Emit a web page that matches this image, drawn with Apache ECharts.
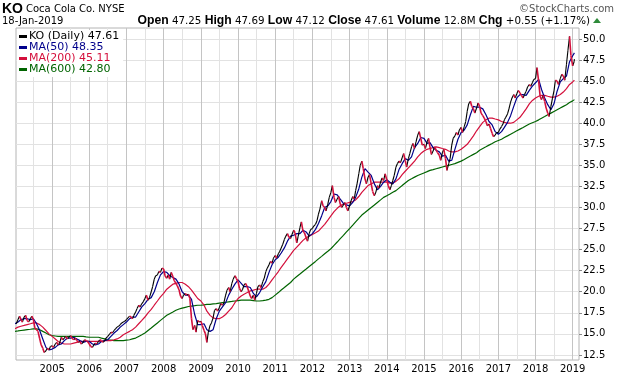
<!DOCTYPE html>
<html>
<head>
<meta charset="utf-8">
<script src="https://cdn.jsdelivr.net/npm/echarts@6/dist/echarts.min.js"></script>
<style>
  html, body { margin: 0; padding: 0; background: #fff; }
  #chart { width: 620px; height: 376px; }
</style>
</head>
<body>
<div id="chart"></div>
<script>
// KO daily close, sampled on the 15th of Jan 2004, then the 1st and 15th of every month
const koClose = [
  16.2, 16.7, 17.1, 16.7, 16.4, 17.0, 17.2, 16.6, 16.4, 16.8, 17.1, 16.7, 15.7, 15.5, 15.3, 14.4, 13.7, 13.3, 12.8, 13.0, 13.3, 13.1, 13.5,
  13.6, 13.4, 13.8, 14.0, 13.7, 13.9, 14.6, 14.3, 14.5, 14.7, 14.4, 14.6, 14.8, 14.5, 14.3, 14.5, 14.2, 14.0, 14.1, 13.8, 14.0, 14.3, 14.2, 14.1,
  13.8, 13.5, 13.4, 13.7, 13.9, 13.8, 14.1, 14.3, 14.2, 14.0, 14.2, 14.5, 14.7, 14.9, 15.2, 15.1, 15.4, 15.6, 15.8, 15.9, 16.1, 16.3, 16.4, 16.5,
  16.7, 16.9, 17.1, 17.0, 16.8, 17.2, 17.6, 18.0, 18.4, 18.2, 18.6, 18.8, 19.2, 19.6, 19.0, 19.3, 20.0, 20.6, 21.5, 21.9, 22.0, 22.4, 22.3, 22.8,
  22.7, 21.9, 21.6, 22.0, 21.5, 22.3, 21.8, 21.3, 21.0, 20.7, 20.2, 19.5, 19.2, 19.6, 19.8, 19.6, 19.7, 19.2, 16.8, 15.5, 16.0, 15.2, 16.6, 16.4,
  16.5, 16.0, 15.4, 15.0, 14.0, 15.2, 16.0, 16.3, 16.9, 17.8, 18.0, 17.7, 18.1, 18.6, 18.4, 18.7, 19.6, 20.2, 20.5, 20.0, 21.0, 21.5, 21.9, 21.6,
  21.2, 20.4, 20.0, 20.3, 20.8, 21.0, 20.6, 20.1, 19.5, 19.2, 19.6, 19.0, 19.8, 20.6, 20.8, 20.5, 21.2, 21.6, 22.4, 22.8, 23.2, 23.6, 23.4, 24.0,
  24.3, 24.0, 24.5, 24.8, 25.2, 25.6, 26.2, 26.6, 26.9, 26.5, 26.3, 26.8, 27.3, 27.0, 25.8, 26.6, 27.6, 28.3, 27.2, 27.0, 26.4, 26.0, 26.9, 27.4,
  27.5, 27.8, 28.0, 28.4, 29.2, 29.8, 30.8, 30.2, 30.0, 29.6, 30.4, 31.2, 31.8, 32.6, 31.2, 30.6, 31.0, 31.3, 30.4, 30.0, 30.3, 30.6, 30.0, 29.6,
  30.2, 30.8, 31.3, 31.0, 32.0, 32.8, 34.0, 35.0, 35.5, 34.6, 33.4, 32.8, 33.6, 33.9, 32.8, 31.9, 31.4, 31.8, 32.6, 32.3, 33.0, 33.5, 33.2, 34.0,
  33.3, 32.6, 32.1, 32.6, 33.2, 33.8, 34.8, 35.2, 35.5, 35.3, 35.9, 36.4, 35.6, 34.8, 35.8, 36.4, 37.2, 37.6, 37.0, 37.8, 38.6, 39.0, 38.2, 37.4,
  37.5, 37.0, 37.8, 38.2, 37.2, 36.3, 36.7, 37.2, 36.8, 36.5, 36.2, 35.6, 36.5, 36.9, 35.8, 34.4, 35.2, 35.8, 37.4, 38.2, 38.5, 38.9, 38.6, 39.2,
  39.5, 38.9, 39.6, 40.2, 41.4, 42.3, 42.6, 42.0, 41.7, 41.2, 41.8, 42.4, 42.0, 41.2, 40.9, 40.6, 40.2, 39.7, 39.9, 39.4, 38.8, 38.4, 38.6, 38.9,
  38.9, 39.3, 39.6, 39.9, 40.4, 40.7, 41.1, 41.7, 42.5, 43.0, 43.4, 43.0, 43.5, 43.9, 43.6, 43.3, 43.0, 43.4, 43.8, 44.3, 44.6, 44.4, 44.8, 45.2,
  45.3, 46.6, 45.0, 43.2, 42.8, 43.3, 42.6, 41.8, 41.2, 40.8, 42.0, 42.9, 43.8, 45.1, 45.0, 44.6, 45.3, 45.8, 45.6, 45.1, 47.0, 48.6, 50.3, 48.0,
  46.8, 47.3
];
const lastDate = [2019, 0, 18];
const koLast = 47.61;

// moving averages, 1st of every month from Jan 2004 to Jan 2019
const ma50 = [
  16.2, 16.4, 16.7, 16.8, 16.8, 16.7, 16.8, 16.2, 15.4, 14.4, 13.4, 13.1,
  13.2, 13.4, 13.7, 13.8, 14.2, 14.5, 14.5, 14.6, 14.4, 14.2, 14.0, 14.1,
  14.1, 13.8, 13.7, 13.8, 14.1, 14.2, 14.3, 14.7, 15.1, 15.4, 15.8, 16.1,
  16.4, 16.8, 17.0, 17.0, 17.6, 18.2, 18.6, 19.1, 19.3, 20.0, 21.1, 22.0,
  22.4, 22.3, 21.9, 21.7, 21.5, 20.9, 20.0, 19.6, 19.6, 19.1, 17.3, 16.1,
  16.1, 16.2, 15.5, 15.3, 15.5, 16.8, 17.7, 18.2, 18.7, 19.6, 20.3, 20.9,
  21.4, 21.0, 20.6, 20.6, 20.5, 19.8, 19.4, 19.9, 20.6, 21.2, 22.3, 23.2,
  23.8, 24.1, 24.6, 25.2, 26.0, 26.6, 26.7, 26.9, 26.9, 27.3, 27.1, 26.6,
  26.9, 27.4, 28.1, 29.0, 30.0, 30.2, 30.7, 31.6, 31.5, 31.0, 30.5, 30.3,
  30.2, 30.6, 31.2, 32.2, 33.6, 34.6, 34.2, 33.8, 32.8, 32.1, 32.5, 33.0,
  33.3, 33.0, 32.8, 33.4, 34.5, 35.2, 35.8, 35.6, 36.0, 37.1, 37.6, 38.3,
  38.2, 37.6, 37.7, 37.1, 36.8, 36.6, 36.1, 36.2, 35.5, 35.6, 36.9, 38.1,
  38.9, 39.2, 39.8, 41.0, 42.0, 41.9, 41.9, 41.7, 41.0, 40.2, 39.8, 39.0,
  38.7, 39.0, 39.5, 40.1, 40.9, 42.0, 43.0, 43.4, 43.4, 43.3, 43.9, 44.4,
  44.8, 45.2, 44.0, 43.0, 42.2, 41.6, 42.3, 43.8, 44.9, 45.3, 45.6, 47.3,
  48.0
];
const ma50Last = 48.35;

const ma200 = [
  15.6, 15.8, 15.9, 16.0, 16.1, 16.2, 16.3, 16.3, 16.1, 15.8, 15.4, 15.0,
  14.7, 14.4, 14.1, 13.9, 13.8, 13.8, 13.8, 13.9, 14.0, 14.1, 14.1, 14.1,
  14.1, 14.1, 14.1, 14.1, 14.1, 14.2, 14.2, 14.2, 14.3, 14.4, 14.6, 14.9,
  15.1, 15.3, 15.5, 15.8, 16.2, 16.6, 17.0, 17.5, 17.9, 18.4, 18.9, 19.4,
  19.8, 20.3, 20.6, 20.9, 21.0, 21.1, 21.1, 20.9, 20.6, 20.2, 19.7, 19.2,
  18.9, 18.4, 17.7, 17.2, 16.9, 16.8, 16.8, 17.0, 17.3, 17.7, 18.1, 18.7,
  19.2, 19.5, 19.7, 19.9, 20.1, 20.2, 20.3, 20.3, 20.3, 20.5, 20.9, 21.4,
  21.9, 22.4, 22.9, 23.4, 23.9, 24.4, 24.9, 25.3, 25.7, 26.1, 26.4, 26.6,
  26.8, 27.0, 27.2, 27.6, 28.0, 28.5, 29.0, 29.5, 29.9, 30.2, 30.4, 30.5,
  30.6, 30.7, 30.9, 31.3, 31.8, 32.2, 32.6, 32.8, 33.0, 33.0, 33.0, 33.0,
  33.0, 32.9, 32.9, 33.1, 33.4, 33.9, 34.3, 34.7, 35.1, 35.5, 36.0, 36.4,
  36.7, 36.9, 37.0, 37.1, 37.2, 37.1, 37.0, 36.9, 36.7, 36.6, 36.6, 36.7,
  36.9, 37.2, 37.5, 38.0, 38.5, 39.1, 39.6, 40.1, 40.4, 40.6, 40.6, 40.5,
  40.4, 40.2, 40.1, 40.0, 40.0, 40.1, 40.4, 40.7, 41.2, 41.7, 42.3, 42.7,
  43.0, 43.2, 43.3, 43.3, 43.2, 43.1, 43.1, 43.2, 43.4, 43.7, 44.1, 44.6,
  44.9
];
const ma200Last = 45.11;

const ma600 = [
  15.3, 15.35, 15.4, 15.45, 15.5, 15.55, 15.6, 15.6, 15.5, 15.3, 15.1, 14.9,
  14.8, 14.75, 14.7, 14.7, 14.7, 14.7, 14.7, 14.7, 14.7, 14.7, 14.7, 14.65,
  14.6, 14.6, 14.6, 14.6, 14.5, 14.4, 14.3, 14.25, 14.2, 14.2, 14.2, 14.2,
  14.25, 14.3, 14.4, 14.5, 14.7, 14.9, 15.1, 15.4, 15.7, 16.0, 16.3, 16.6,
  16.9, 17.2, 17.4, 17.6, 17.8, 17.95, 18.05, 18.15, 18.25, 18.3, 18.35, 18.4,
  18.4, 18.45, 18.5, 18.5, 18.55, 18.6, 18.65, 18.7, 18.75, 18.8, 18.85, 18.9,
  18.95, 19.0, 19.0, 19.0, 19.0, 18.95, 18.9, 18.9, 18.95, 19.0, 19.1, 19.3,
  19.6, 19.9, 20.2, 20.5, 20.8, 21.1, 21.5, 21.8, 22.1, 22.4, 22.7, 23.0,
  23.3, 23.6, 23.9, 24.2, 24.5, 24.8, 25.1, 25.5, 25.9, 26.3, 26.7, 27.1,
  27.5, 27.9, 28.3, 28.7, 29.1, 29.4, 29.7, 30.0, 30.3, 30.6, 30.9, 31.2,
  31.4, 31.6, 31.8, 32.0, 32.3, 32.6, 32.9, 33.2, 33.4, 33.6, 33.8, 33.95,
  34.1, 34.25, 34.4, 34.5, 34.6, 34.7, 34.8, 34.9, 35.0, 35.1, 35.2, 35.35,
  35.5, 35.7, 35.9, 36.1, 36.3, 36.5, 36.8, 37.0, 37.2, 37.4, 37.6, 37.8,
  37.95, 38.1, 38.3, 38.5, 38.7, 38.9, 39.1, 39.3, 39.5, 39.7, 39.9, 40.05,
  40.2, 40.4, 40.6, 40.8, 41.0, 41.2, 41.4, 41.6, 41.8, 42.0, 42.2, 42.45,
  42.65
];
const ma600Last = 42.80;

const yearLabels = [2005, 2006, 2007, 2008, 2009, 2010, 2011, 2012, 2013, 2014, 2015, 2016, 2017, 2018, 2019];
const priceTicks = [12.5, 15, 17.5, 20, 22.5, 25, 27.5, 30, 32.5, 35, 37.5, 40, 42.5, 45, 47.5, 50];

const upColor = '#000000';
const downColor = '#d4103c';
const font = 'DejaVu Sans';

const ts = (y, m, d) => new Date(y, m, d).getTime();
const tLast = ts(lastDate[0], lastDate[1], lastDate[2]);

const closeDates = koClose.map((v, i) => ts(2004, Math.floor((i + 1) / 2), i % 2 === 0 ? 15 : 1));
closeDates.push(tLast);
const closes = koClose.concat([koLast]);
const segments = [];
for (let i = 1; i < closes.length; i++) {
  segments.push([closeDates[i - 1], closes[i - 1], closeDates[i], closes[i], closes[i] >= closes[i - 1] ? 1 : 0]);
}

const maLine = (vals, last) => vals.map((v, i) => [ts(2004, i, 1), v]).concat([[tLast, last]]);

const yearTicks = yearLabels.map(y => ts(y, 0, 1));
const halfTicks = [];
for (let y = 2004; y <= 2019; y++) {
  if (y > 2004) halfTicks.push(ts(y, 0, 1));
  if (y < 2019) halfTicks.push(ts(y, 6, 1));
}

const names = [
  'KO (Daily) ' + koLast.toFixed(2),
  'MA(50) ' + ma50Last.toFixed(2),
  'MA(200) ' + ma200Last.toFixed(2),
  'MA(600) ' + ma600Last.toFixed(2)
];

const chart = echarts.init(document.getElementById('chart'));
chart.setOption({
  animation: false,
  backgroundColor: '#fff',
  grid: {
    left: 16, right: 41, top: 28, bottom: 16,
    show: true, borderColor: '#b4b4b4', borderWidth: 1
  },
  legend: {
    orient: 'vertical',
    left: 17, top: 30,
    backgroundColor: '#fff',
    padding: [1, 4, 2, 2],
    itemGap: 0,
    itemWidth: 8, itemHeight: 3,
    icon: 'rect',
    textStyle: { fontFamily: font, fontSize: 11, lineHeight: 10, padding: [0, 0, 0, -3] },
    data: [
      { name: names[0], textStyle: { color: '#000' } },
      { name: names[1], textStyle: { color: '#00008b' } },
      { name: names[2], textStyle: { color: '#d4103c' } },
      { name: names[3], textStyle: { color: '#006400' } }
    ]
  },
  xAxis: {
    type: 'value',
    min: ts(2004, 0, 12),
    max: ts(2019, 2, 4),
    axisLine: { show: false },
    axisTick: { show: false, customValues: halfTicks },
    splitLine: { show: true, lineStyle: { color: ['#e2e2e2', '#c4c4c4'], width: 1 } },
    axisLabel: {
      customValues: yearTicks,
      formatter: v => String(new Date(v).getFullYear()),
      color: '#000', fontFamily: font, fontSize: 10, margin: 4
    }
  },
  yAxis: {
    type: 'value',
    position: 'right',
    min: 11.9,
    max: 51.3,
    axisLine: { show: false },
    axisTick: { show: true, customValues: priceTicks, length: 3, lineStyle: { color: '#888' } },
    splitLine: { show: true, lineStyle: { color: '#e2e2e2', width: 1 } },
    axisLabel: {
      customValues: priceTicks,
      formatter: v => v.toFixed(1),
      color: '#000', fontFamily: font, fontSize: 10, margin: 4
    }
  },
  graphic: [
    { type: 'text', left: 2, top: 2, style: { text: 'KO', font: 'bold 14px "Liberation Sans"', fill: '#000' } },
    { type: 'text', left: 26, top: 4, style: { text: 'Coca Cola Co. NYSE', font: '10px "DejaVu Sans"', fill: '#000' } },
    { type: 'text', right: 6, top: 4, style: { text: '©StockCharts.com', font: '10px "DejaVu Sans"', fill: '#555' } },
    { type: 'text', left: 2, top: 16, style: { text: '18-Jan-2019', font: '10px "DejaVu Sans"', fill: '#000' } },
    {
      type: 'text', right: 30, top: 15,
      style: {
        text: '{b|Open} 47.25 {b|High} 47.69 {b|Low} 47.12 {b|Close} 47.61 {b|Volume} 12.8M {b|Chg} +0.55 (+1.17%)',
        font: '10.3px "DejaVu Sans"', fill: '#000',
        rich: { b: { fontFamily: 'Liberation Sans', fontWeight: 'bold', fontSize: 12.2 } }
      }
    },
    { type: 'polygon', shape: { points: [[593, 23], [601, 23], [597, 18]] }, style: { fill: '#2e8b3a' } }
  ],
  series: [
    {
      name: names[0],
      type: 'custom',
      itemStyle: { color: upColor },
      encode: { x: [0, 2], y: [1, 3] },
      data: segments,
      z: 5,
      renderItem: (params, api) => {
        const a = api.coord([api.value(0), api.value(1)]);
        const b = api.coord([api.value(2), api.value(3)]);
        const up = api.value(4) === 1;
        return {
          type: 'line',
          z2: up ? 1 : 2,
          shape: { x1: a[0], y1: a[1], x2: b[0], y2: b[1] },
          style: { stroke: up ? upColor : downColor, lineWidth: up ? 1.1 : 1.6 }
        };
      }
    },
    { name: names[1], type: 'line', data: maLine(ma50, ma50Last), showSymbol: false, z: 4,
      itemStyle: { color: '#00008b' }, lineStyle: { color: '#00008b', width: 1.2 } },
    { name: names[2], type: 'line', data: maLine(ma200, ma200Last), showSymbol: false, z: 3,
      itemStyle: { color: '#d4103c' }, lineStyle: { color: '#d4103c', width: 1.2 } },
    { name: names[3], type: 'line', data: maLine(ma600, ma600Last), showSymbol: false, z: 2,
      itemStyle: { color: '#006400' }, lineStyle: { color: '#006400', width: 1.2 } }
  ]
});
</script>
</body>
</html>
